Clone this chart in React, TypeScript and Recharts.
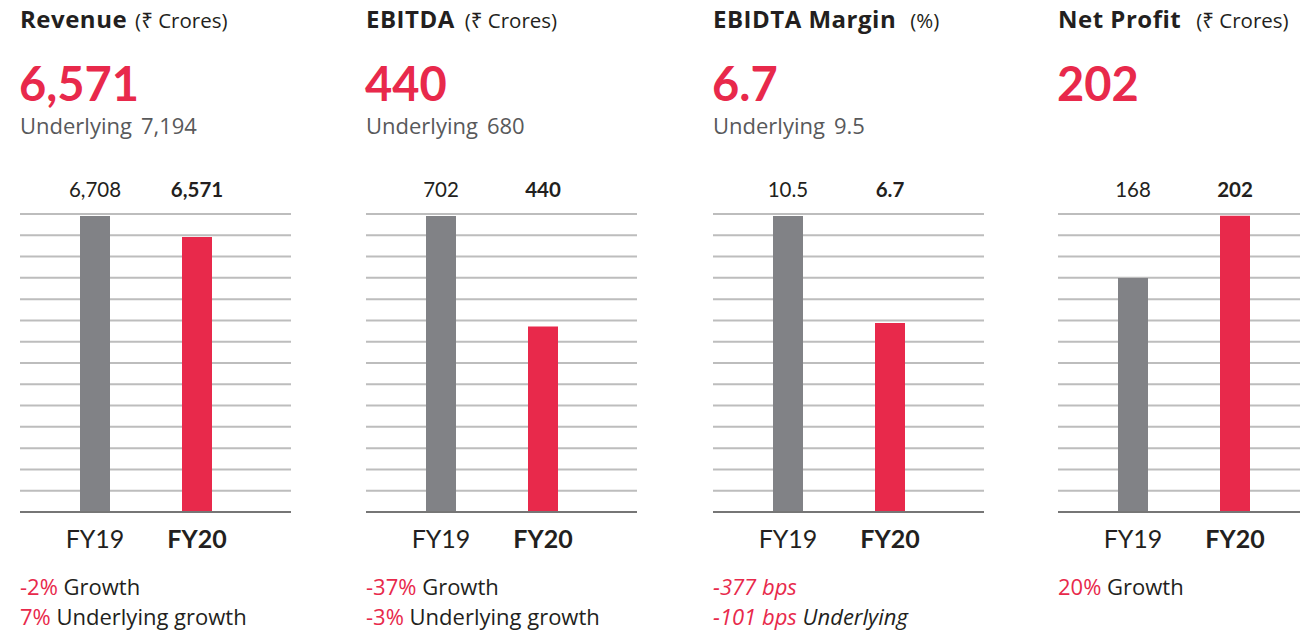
import React from "react";
import { BarChart, Bar, XAxis, YAxis, CartesianGrid, Cell } from "recharts";

const years = ["FY19", "FY20"];
const revenue = [6708, 6571];
const ebitda = [702, 440];
const ebitdaMargin = [10.5, 6.7];
const netProfit = [168, 202];

const titles = ["Revenue", "EBITDA", "EBIDTA Margin", "Net Profit"];
const units = ["(₹ Crores)", "(₹ Crores)", "(%)", "(₹ Crores)"];
const headline = ["6,571", "440", "6.7", "202"];
const underlying = ["7,194", "680", "9.5", null];

// y-domains (revenue and net profit are not zero-based)
const domains: [number, number][] = [
  [4777, 6721],
  [0, 707],
  [0, 10.57],
  [40, 203],
];

const RED = "#e8294b";
const GREY_BAR = "#818286";
const DARK = "#231f20";
const FONT = "Lato, 'Noto Sans', sans-serif";
const TEXT_FONT = "'Open Sans', 'Noto Sans', sans-serif";

const panelLeft = [20, 366, 713, 1058];
const unitGap = [8, 10, 14, 15];

type Row = { name: string; value: number; display: string };

function fmt(v: number) {
  return Number.isInteger(v) ? v.toLocaleString("en-US") : String(v);
}

function makeRows(values: number[]): Row[] {
  return years.map((name, i) => ({ name, value: values[i], display: fmt(values[i]) }));
}

const series = [revenue, ebitda, ebitdaMargin, netProfit];

function TopTick({ x, y, payload, index }: any) {
  return (
    <text
      x={x}
      y={y}
      dy={-17}
      textAnchor="middle"
      fontFamily={FONT}
      fontSize={20.5}
      fontWeight={index === 1 ? 700 : 400}
      fill={DARK}
    >
      {payload.value}
    </text>
  );
}

function BottomTick({ x, y, payload, index }: any) {
  return (
    <text
      x={x}
      y={y}
      dy={36}
      textAnchor="middle"
      fontFamily={FONT}
      fontSize={25}
      fontWeight={index === 1 ? 700 : 400}
      fill={DARK}
    >
      {payload.value}
    </text>
  );
}

function MiniBars({ values, domain }: { values: number[]; domain: [number, number] }) {
  const data = makeRows(values);
  return (
    <BarChart width={271} height={392} data={data} margin={{ top: 0, right: 0, bottom: 0, left: 0 }}>
      <CartesianGrid
        vertical={false}
        stroke="#bdbdbd"
        strokeWidth={2}
        horizontalCoordinatesGenerator={({ offset }: any) =>
          Array.from({ length: 15 }, (_, i) => offset.top + (i * offset.height) / 14)
        }
      />
      <YAxis hide domain={domain} type="number" />
      <XAxis
        xAxisId="top"
        orientation="top"
        dataKey="display"
        height={44}
        axisLine={false}
        tickLine={false}
        tickSize={0}
        tickMargin={0}
        padding={{ left: 24, right: 43 }}
        tick={<TopTick />}
        interval={0}
      />
      <XAxis
        xAxisId="bottom"
        dataKey="name"
        height={50}
        axisLine={{ stroke: "#767676", strokeWidth: 2 }}
        tickLine={false}
        tickSize={0}
        tickMargin={0}
        padding={{ left: 24, right: 43 }}
        tick={<BottomTick />}
        interval={0}
      />
      <Bar dataKey="value" xAxisId="bottom" barSize={30} isAnimationActive={false}>
        {data.map((_, i) => (
          <Cell key={i} fill={i === 0 ? GREY_BAR : RED} />
        ))}
      </Bar>
    </BarChart>
  );
}

const footLine1: React.ReactNode[] = [
  <>
    <span style={{ color: RED }}>-2%</span> Growth
  </>,
  <>
    <span style={{ color: RED }}>-37%</span> Growth
  </>,
  <span style={{ fontStyle: "italic", color: RED }}>-377 bps</span>,
  <>
    <span style={{ color: RED }}>20%</span> Growth
  </>,
];

const footLine2: React.ReactNode[] = [
  <>
    <span style={{ color: RED }}>7%</span> Underlying growth
  </>,
  <>
    <span style={{ color: RED }}>-3%</span> Underlying growth
  </>,
  <span style={{ fontStyle: "italic" }}>
    <span style={{ color: RED }}>-101 bps</span> Underlying
  </span>,
  null,
];

const abs = (left: number, top: number, fs: number, family = TEXT_FONT): React.CSSProperties => ({
  position: "absolute",
  left,
  top,
  fontSize: fs,
  lineHeight: 1,
  whiteSpace: "nowrap",
  fontFamily: family,
});

export default function App() {
  return (
    <div
      style={{
        position: "absolute",
        left: 0,
        top: 0,
        width: 1300,
        height: 633,
        overflow: "hidden",
        background: "#fff",
        color: DARK,
        fontFamily: FONT,
      }}
    >
      {titles.map((t, i) => {
        const x = panelLeft[i];
        return (
          <React.Fragment key={t}>
            <div style={abs(x, 6.7, 24)}>
              <span style={{ fontWeight: 700, letterSpacing: 0.5 }}>{t}</span>
              <span style={{ fontSize: 20.5, marginLeft: unitGap[i] }}>{units[i]}</span>
            </div>
            <div style={{ ...abs(x - 1, 60, 47, FONT), fontWeight: 700, color: RED }}>{headline[i]}</div>
            {underlying[i] && (
              <div style={{ ...abs(x, 113.5, 22), color: "#58595b" }}>
                Underlying<span style={{ marginLeft: 9 }}>{underlying[i]}</span>
              </div>
            )}
            <div style={{ position: "absolute", left: x, top: 170 }}>
              <MiniBars values={series[i]} domain={domains[i]} />
            </div>
            <div style={abs(x, 575, 22)}>{footLine1[i]}</div>
            {footLine2[i] && <div style={abs(x, 605, 22)}>{footLine2[i]}</div>}
          </React.Fragment>
        );
      })}
    </div>
  );
}
